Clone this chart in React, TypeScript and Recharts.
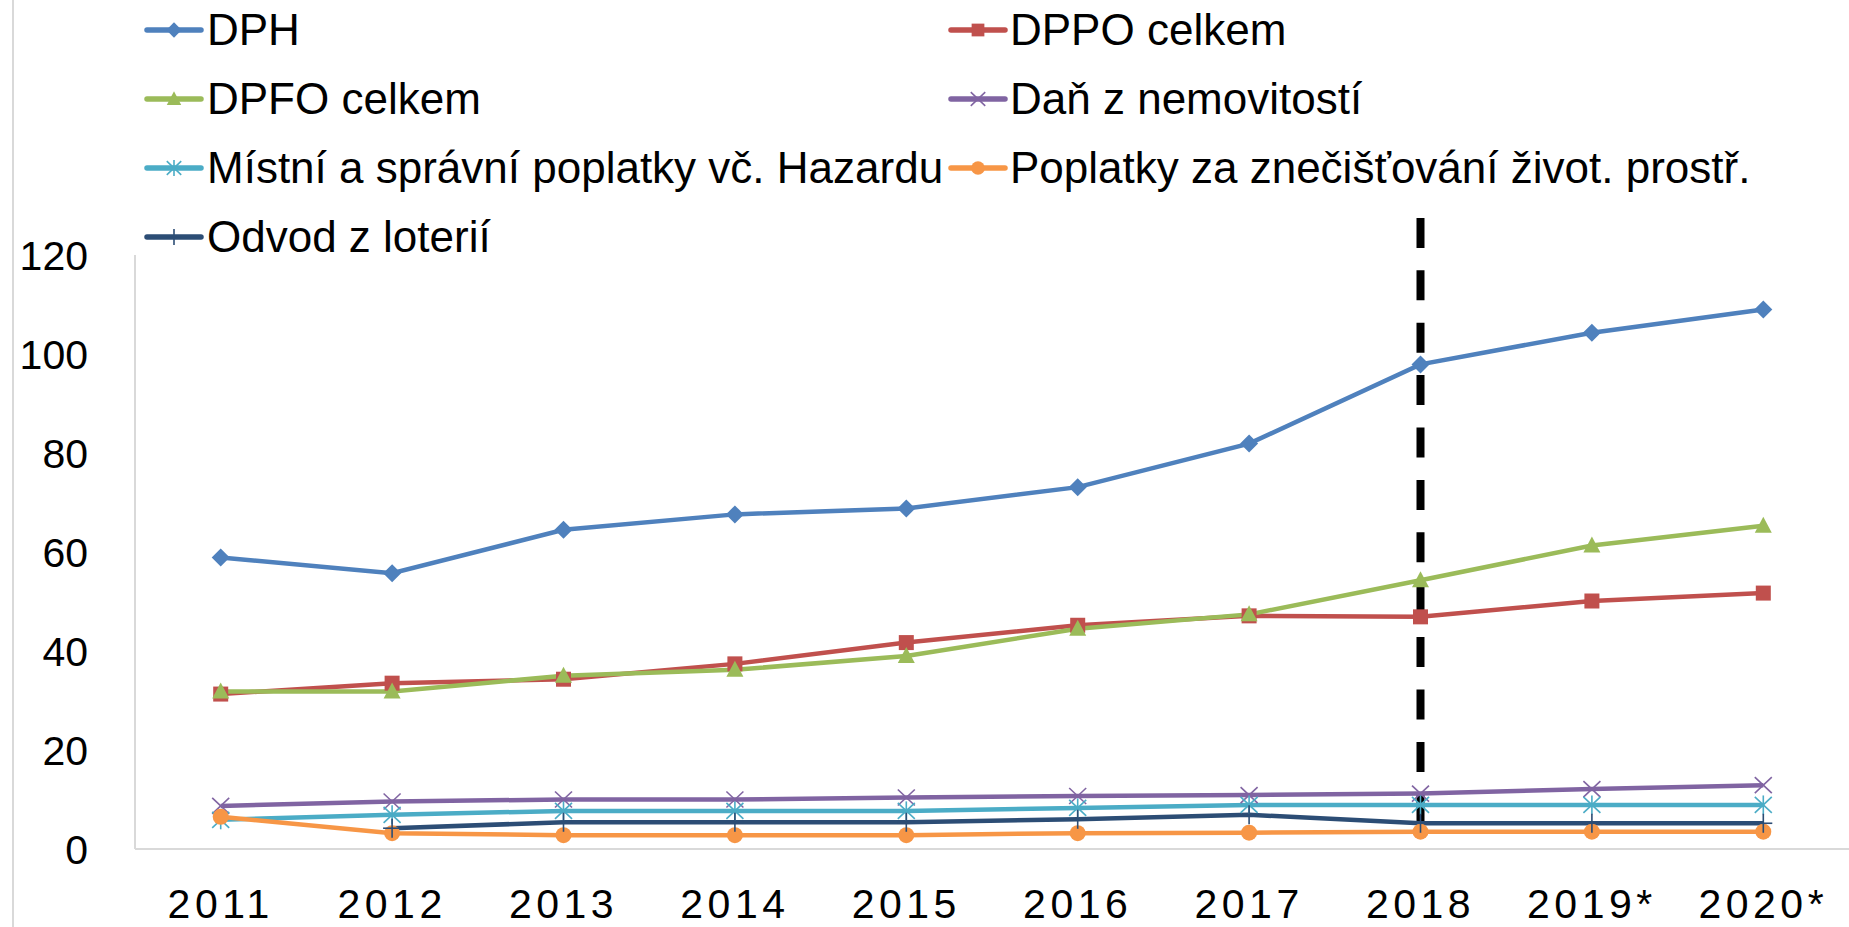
import React from 'react';
import { LineChart, Line, XAxis, YAxis, ReferenceLine, Legend } from 'recharts';

const years = ['2011', '2012', '2013', '2014', '2015', '2016', '2017', '2018', '2019*', '2020*'];
const dph = [58.9, 55.7, 64.5, 67.6, 68.8, 73.1, 81.9, 97.9, 104.3, 109.0];
const dppo = [31.3, 33.5, 34.3, 37.4, 41.7, 45.2, 47.1, 46.9, 50.1, 51.7];
const dpfo = [31.8, 31.8, 35.0, 36.2, 39.0, 44.5, 47.4, 54.3, 61.3, 65.3];
const danNemovitosti = [8.7, 9.6, 10.0, 10.0, 10.4, 10.7, 10.9, 11.2, 12.1, 12.9];
const mistniPoplatky = [5.9, 6.9, 7.7, 7.7, 7.7, 8.3, 8.9, 8.9, 8.9, 8.9];
const poplatkyZnecisteni = [6.5, 3.2, 2.8, 2.8, 2.8, 3.2, 3.3, 3.5, 3.5, 3.5];
const odvodLoterie: (number | null)[] = [null, 4.2, 5.4, 5.4, 5.4, 6.0, 6.9, 5.2, 5.2, 5.2];
const yTicks = [0, 20, 40, 60, 80, 100, 120];
const dividerYear = '2018';
const dividerTop = 127.5;
const dividerBottom = 5.2;

type MarkerKind = 'diamond' | 'square' | 'triangle' | 'x' | 'star' | 'circle' | 'plus';

const series: { key: string; name: string; color: string; marker: MarkerKind }[] = [
  { key: 'dph', name: 'DPH', color: '#4F81BD', marker: 'diamond' },
  { key: 'dppo', name: 'DPPO celkem', color: '#C0504D', marker: 'square' },
  { key: 'dpfo', name: 'DPFO celkem', color: '#9BBB59', marker: 'triangle' },
  { key: 'dan', name: 'Daň z nemovitostí', color: '#8064A2', marker: 'x' },
  { key: 'mistni', name: 'Místní a správní poplatky vč. Hazardu', color: '#4BACC6', marker: 'star' },
  { key: 'poplatky', name: 'Poplatky za znečišťování život. prostř.', color: '#F79646', marker: 'circle' },
  { key: 'odvod', name: 'Odvod z loterií', color: '#2C4D75', marker: 'plus' },
];

const data = years.map((year, i) => ({
  year,
  dph: dph[i],
  dppo: dppo[i],
  dpfo: dpfo[i],
  dan: danNemovitosti[i],
  mistni: mistniPoplatky[i],
  poplatky: poplatkyZnecisteni[i],
  odvod: odvodLoterie[i],
}));

const FONT = '"Liberation Sans", Arial, sans-serif';

function markerShape(kind: MarkerKind, color: string, cx: number, cy: number, s: number) {
  switch (kind) {
    case 'diamond':
      return <path d={`M${cx},${cy - 9 * s}L${cx + 9 * s},${cy}L${cx},${cy + 9 * s}L${cx - 9 * s},${cy}Z`} fill={color} />;
    case 'square':
      return <rect x={cx - 7.5 * s} y={cy - 7.5 * s} width={15 * s} height={15 * s} fill={color} />;
    case 'triangle':
      return <path d={`M${cx},${cy - 9 * s}L${cx + 8.5 * s},${cy + 7 * s}L${cx - 8.5 * s},${cy + 7 * s}Z`} fill={color} />;
    case 'x':
      return (
        <g stroke={color} strokeWidth={1.6}>
          <line x1={cx - 8.5 * s} y1={cy - 8 * s} x2={cx + 8.5 * s} y2={cy + 8 * s} />
          <line x1={cx - 8.5 * s} y1={cy + 8 * s} x2={cx + 8.5 * s} y2={cy - 8 * s} />
        </g>
      );
    case 'star':
      return (
        <g stroke={color} strokeWidth={1.6}>
          <line x1={cx - 8.5 * s} y1={cy - 8 * s} x2={cx + 8.5 * s} y2={cy + 8 * s} />
          <line x1={cx - 8.5 * s} y1={cy + 8 * s} x2={cx + 8.5 * s} y2={cy - 8 * s} />
          <line x1={cx} y1={cy - 9.5 * s} x2={cx} y2={cy + 9.5 * s} />
        </g>
      );
    case 'circle':
      return <circle cx={cx} cy={cy} r={8 * s} fill={color} />;
    case 'plus':
      return (
        <g stroke={color} strokeWidth={1.6}>
          <line x1={cx} y1={cy - 9.5 * s} x2={cx} y2={cy + 9.5 * s} />
          <line x1={cx - 9 * s} y1={cy} x2={cx + 9 * s} y2={cy} />
        </g>
      );
  }
  return null;
}

const makeDot = (kind: MarkerKind, color: string) => (props: any) => {
  const { cx, cy, index } = props;
  if (cx == null || cy == null || Number.isNaN(cy)) return <g key={`e-${index}`} />;
  return <g key={`d-${index}`}>{markerShape(kind, color, cx, cy, 1)}</g>;
};

const renderLegend = () => (
  <div style={{ position: 'relative', width: 1849, height: 270, fontFamily: FONT }}>
    {series.map((s, i) => {
      const col = i % 2;
      const row = Math.floor(i / 2);
      const cy = 30 + 69 * row;
      const iconLeft = col === 0 ? 144 : 948;
      const textLeft = col === 0 ? 207 : 1010;
      return (
        <React.Fragment key={s.key}>
          <svg
            width={60}
            height={24}
            style={{ position: 'absolute', left: iconLeft, top: cy - 12 }}
          >
            <line x1={3} y1={12} x2={57} y2={12} stroke={s.color} strokeWidth={5.5} strokeLinecap="round" />
            {markerShape(s.marker, s.color, 30, 12, 0.85)}
          </svg>
          <div
            style={{
              position: 'absolute',
              left: textLeft,
              top: cy - 22,
              height: 44,
              lineHeight: '44px',
              fontSize: 44,
              color: '#000',
              whiteSpace: 'nowrap',
            }}
          >
            {s.name}
          </div>
        </React.Fragment>
      );
    })}
  </div>
);

export default function App() {
  return (
    <div style={{ position: 'absolute', left: 0, top: 0, width: 1849, height: 927, background: '#fff' }}>
      <div style={{ position: 'absolute', left: 12, top: 0, width: 0, height: 927, borderLeft: '2px solid #D9D9D9' }} />
      <LineChart
        width={1849}
        height={927}
        data={data}
        margin={{ top: 255, right: 0, bottom: 0, left: 0 }}
        style={{ fontFamily: FONT }}
      >
        <XAxis
          dataKey="year"
          interval={0}
          height={78}
          padding={{ left: 85.7, right: 85.7 }}
          tickLine={false}
          tickSize={0}
          tickMargin={40}
          axisLine={{ stroke: '#D9D9D9', strokeWidth: 2 }}
          tick={{ fontSize: 41, fill: '#000', fontFamily: FONT, letterSpacing: 4.5 }}
        />
        <YAxis
          width={135}
          domain={[0, 120]}
          ticks={yTicks}
          interval={0}
          allowDataOverflow
          tickLine={false}
          tickSize={0}
          tickMargin={47}
          axisLine={{ stroke: '#D9D9D9', strokeWidth: 2 }}
          tick={{ fontSize: 41, fill: '#000', fontFamily: FONT }}
        />
        <Legend
          layout="horizontal"
          verticalAlign="middle"
          align="center"
          content={renderLegend}
          wrapperStyle={{ top: 0, left: 0, width: 1849, height: 270 }}
        />
        <ReferenceLine
          segment={[
            { x: dividerYear, y: dividerTop },
            { x: dividerYear, y: dividerBottom },
          ]}
          stroke="#000"
          strokeWidth={8}
          strokeDasharray="30 22.4"
          ifOverflow="visible"
        />
        {series.map((s) => (
          <Line
            key={s.key}
            type="linear"
            dataKey={s.key}
            name={s.name}
            stroke={s.color}
            strokeWidth={4.5}
            dot={makeDot(s.marker, s.color)}
            activeDot={false}
            connectNulls={false}
            isAnimationActive={false}
          />
        ))}
      </LineChart>
    </div>
  );
}
